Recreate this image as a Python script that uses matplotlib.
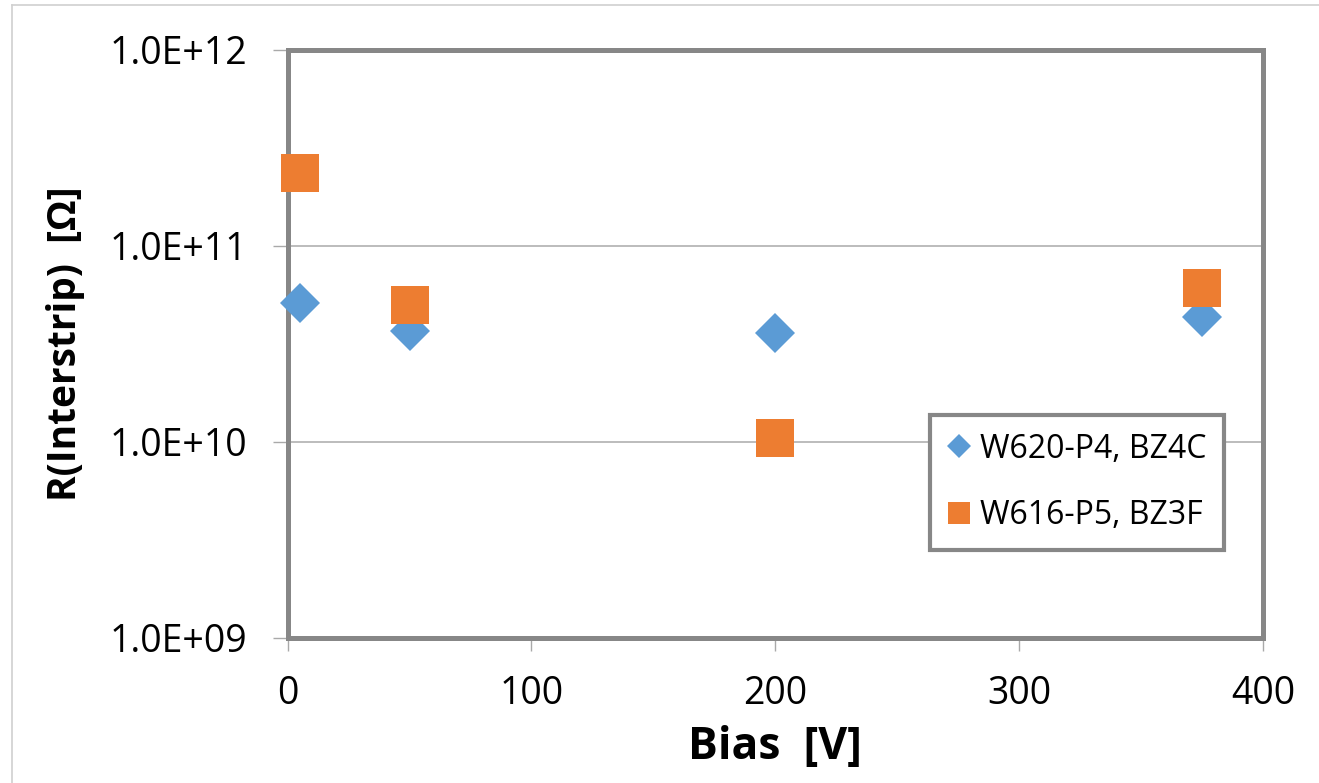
import matplotlib.pyplot as plt
from matplotlib.lines import Line2D

plt.rcParams['font.family'] = ['Open Sans', 'DejaVu Sans']

# --- data ---
bias = [5, 50, 200, 375]
r_w620 = [5.1e10, 3.7e10, 3.6e10, 4.35e10]   # W620-P4, BZ4C
r_w616 = [2.35e11, 5.0e10, 1.05e10, 6.1e10]  # W616-P5, BZ3F

labels = ["W620-P4, BZ4C", "W616-P5, BZ3F"]
blue = "#5B9BD5"
orange = "#ED7D31"
frame_gray = "#878787"
grid_gray = "#A9A9A9"

W, H = 1319, 783
fig = plt.figure(figsize=(W / 100, H / 100), dpi=100)
ax = fig.add_axes([287.6 / W, 1 - 638 / H, (1263 - 287.6) / W, (638 - 50) / H])

ax.plot(bias, r_w620, linestyle="none", marker="D", ms=20, color=blue,
        mew=0, label=labels[0], zorder=3, clip_on=False)
ax.plot(bias, r_w616, linestyle="none", marker="s", ms=27, color=orange,
        mew=0, label=labels[1], zorder=4, clip_on=False)

ax.set_yscale("log")
ax.set_ylim(1e9, 1e12)
ax.set_xlim(0, 400)
ax.set_xticks([0, 100, 200, 300, 400])
ax.set_yticks([1e9, 1e10, 1e11, 1e12])
ax.set_yticklabels(["1.0E+09", "1.0E+10", "1.0E+11", "1.0E+12"])
ax.yaxis.set_minor_locator(plt.NullLocator())

ax.grid(True, axis="y", color=grid_gray, linewidth=1.1, zorder=0)
ax.set_axisbelow(True)
for s in ax.spines.values():
    s.set_color(frame_gray)
    s.set_linewidth(3.6)
    s.set_zorder(2)

ax.tick_params(axis="y", which="major", labelsize=27, length=11, width=1,
               color=grid_gray, pad=18)
ax.tick_params(axis="x", which="major", labelsize=27, length=9, width=1,
               color=grid_gray, pad=18)

ax.set_xlabel("Bias  [V]", fontsize=32, fontweight="bold", labelpad=8)
ax.set_ylabel("R(Interstrip)  [\u03a9]", fontsize=28, fontweight="bold",
              labelpad=18)

leg = ax.legend(loc="upper left",
                bbox_to_anchor=(930 / W, 1 - 415 / H),
                bbox_transform=fig.transFigure, borderaxespad=0,
                fontsize=23, markerscale=0.6, fancybox=False,
                framealpha=1, edgecolor=frame_gray, labelspacing=1.05,
                handlelength=0.7, handletextpad=0.3, borderpad=0.55)
leg.get_frame().set_linewidth(3)

# thin outer chart border
fig.add_artist(Line2D([12 / W, 12 / W], [0, 1 - 5 / H], color="#D0D0D0", lw=1.2))
fig.add_artist(Line2D([12 / W, 1], [1 - 5 / H, 1 - 5 / H], color="#D0D0D0", lw=1.2))

fig.savefig("out.png", dpi=100)
